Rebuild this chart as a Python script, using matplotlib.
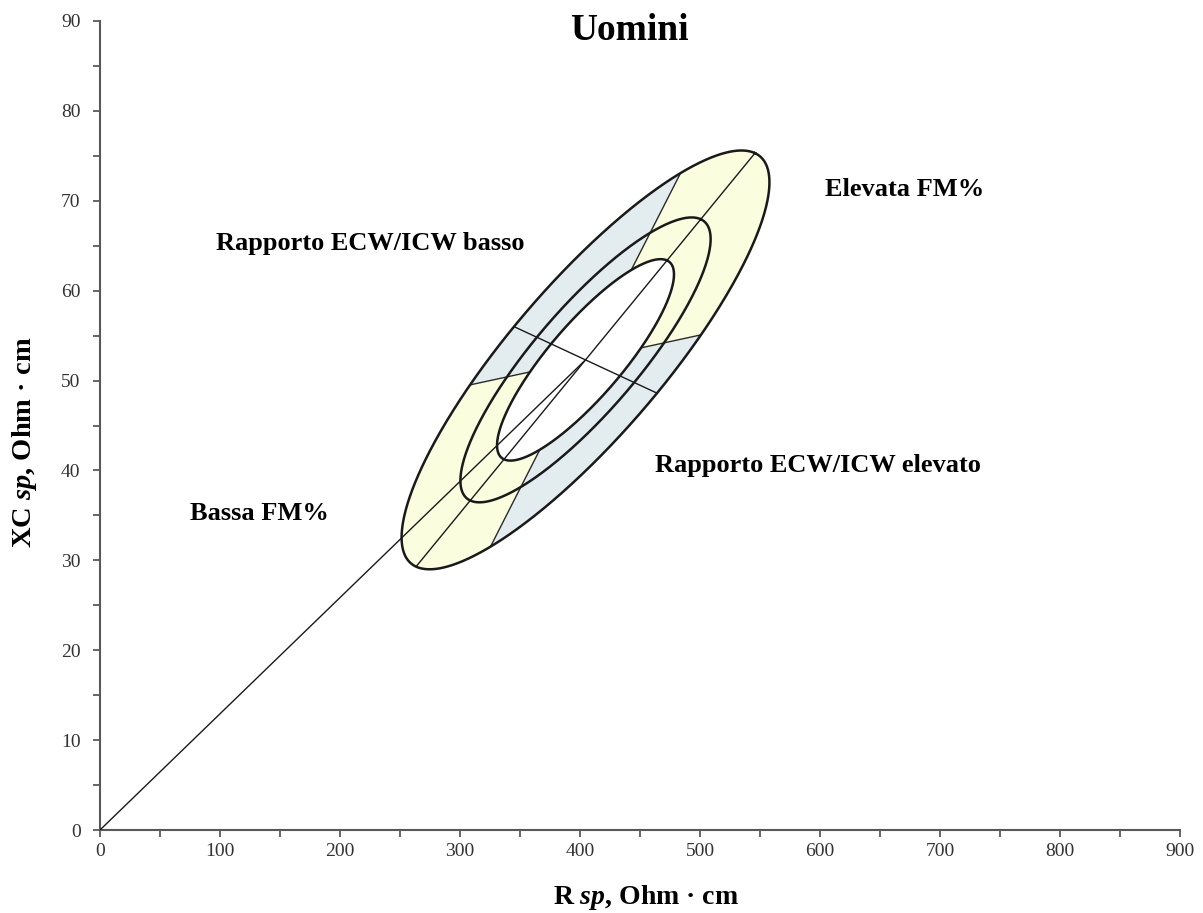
import numpy as np
import matplotlib.pyplot as plt
from matplotlib.ticker import MultipleLocator

plt.rcParams['font.family'] = ['Liberation Serif', 'DejaVu Serif']
plt.rcParams['mathtext.fontset'] = 'custom'
plt.rcParams['mathtext.rm'] = 'Liberation Serif'
plt.rcParams['mathtext.it'] = 'Liberation Serif:italic'
plt.rcParams['mathtext.bf'] = 'Liberation Serif:bold'
plt.rcParams['mathtext.bfit'] = 'Liberation Serif:bold:italic'

# reference ellipse (R sp, Xc sp), 95% curve given by two conjugate semi-diameters
center = (404.6, 52.3)
major_tip = (545.8, 75.3)
minor_tip = (464.2, 48.6)
levels = [0.50, 0.75, 0.95]
# sector limits (degrees of the ellipse parameter) for the FM% quadrants
fm_sector = (-36.0, 74.0)

labels = ["Elevata FM%", "Rapporto ECW/ICW basso",
          "Rapporto ECW/ICW elevato", "Bassa FM%"]
label_x = [670.8, 225.0, 598.0, 132.5]
label_y = [71.2, 65.2, 40.6, 35.2]

yellow = '#fbfddf'
blue = '#e3edf0'
ink = '#1a1a1a'

c = np.array(center)
U = np.array(major_tip) - c
V = np.array(minor_tip) - c


def scale(p):
    return np.sqrt(-2 * np.log(1 - p)) / np.sqrt(-2 * np.log(0.05))


def ring(t_deg, p):
    t = np.radians(t_deg)
    pts = c[:, None] + scale(p) * (np.outer(U, np.cos(t)) + np.outer(V, np.sin(t)))
    return pts[0], pts[1]


def band(t0, t1):
    t = np.linspace(t0, t1, 200)
    xo, yo = ring(t, levels[-1])
    xi, yi = ring(t[::-1], levels[0])
    return np.r_[xo, xi], np.r_[yo, yi]


fig = plt.figure(figsize=(12.03, 9.13), dpi=100)
ax = fig.add_axes([0.0831, 0.0909, 0.8978, 0.8861])

a, b = fm_sector
for t0, t1, col in [(a, b, yellow), (b, a + 180, blue),
                    (a + 180, b + 180, yellow), (b + 180, a + 360, blue)]:
    x, y = band(t0, t1)
    ax.fill(x, y, color=col, lw=0, zorder=1)

# sector borders
for t in [a, b, a + 180, b + 180]:
    xo, yo = ring(np.array([t]), levels[-1])
    xi, yi = ring(np.array([t]), levels[0])
    ax.plot([xo[0], xi[0]], [yo[0], yi[0]], color='#2a2a2a', lw=1.0, zorder=2)

# axes of the ellipse and the line from the origin
ax.plot([c[0] - U[0], c[0] + U[0]], [c[1] - U[1], c[1] + U[1]], color=ink, lw=1.0, zorder=3)
ax.plot([c[0] - V[0], c[0] + V[0]], [c[1] - V[1], c[1] + V[1]], color=ink, lw=1.0, zorder=3)
ax.plot([0, c[0]], [0, c[1]], color=ink, lw=1.0, zorder=3)

tt = np.linspace(0, 360, 721)
for p in levels:
    x, y = ring(tt, p)
    ax.plot(x, y, color=ink, lw=1.8, zorder=4)

for s, x, y in zip(labels, label_x, label_y):
    ax.text(x, y, s, ha='center', va='center', fontsize=19, fontweight='bold')

ax.set_xlim(0, 900)
ax.set_ylim(0, 90)
ax.xaxis.set_major_locator(MultipleLocator(100))
ax.xaxis.set_minor_locator(MultipleLocator(50))
ax.yaxis.set_major_locator(MultipleLocator(10))
ax.yaxis.set_minor_locator(MultipleLocator(5))
for s in ['top', 'right']:
    ax.spines[s].set_visible(False)
for s in ['left', 'bottom']:
    ax.spines[s].set_color('#595959')
    ax.spines[s].set_linewidth(1.5)
ax.tick_params(which='both', direction='out', length=5, width=1.3, color='#595959')
ax.tick_params(which='minor', labelbottom=False, labelleft=False)
ax.tick_params(axis='x', which='major', labelsize=14, labelcolor='#333333', pad=4)
ax.tick_params(axis='y', which='major', labelsize=14, labelcolor='#333333', pad=9)

fig.text(629 / 1203, 1 - 30 / 913, 'Uomini', ha='center', va='center',
         fontsize=27, fontweight='bold')
fig.text(646 / 1203, 1 - 897 / 913, r'R $\mathbfit{sp}$, Ohm · cm', ha='center',
         va='center', fontsize=20, fontweight='bold')
fig.text(25 / 1203, 1 - 442 / 913, r'XC $\mathbfit{sp}$, Ohm · cm', ha='center',
         va='center', rotation=90, fontsize=20.5, fontweight='bold')

fig.savefig('out.png', dpi=100)
